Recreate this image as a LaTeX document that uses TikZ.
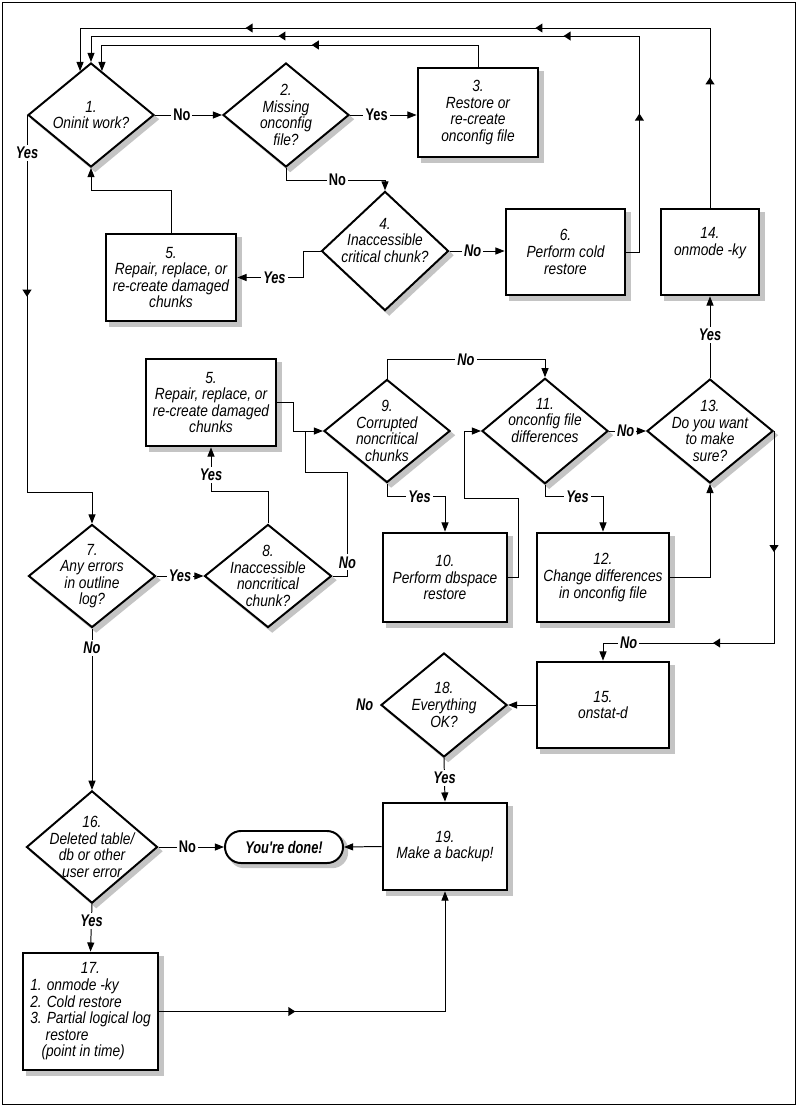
\documentclass[tikz,border=0pt]{standalone}
\usepackage{fontspec}
\setmainfont{Liberation Sans}[FakeStretch=0.85]
\newfontfamily\labfont{Liberation Sans}[FakeStretch=0.76]
\usetikzlibrary{shapes.geometric,arrows.meta,backgrounds}

\definecolor{shadowgray}{RGB}{196,196,196}

\tikzset{
  chart/.style={x=0.025cm, y=-0.025cm, line width=0.7pt,
    font=\fontsize{11.5}{11.8}\selectfont\itshape,
    >={Triangle[length=6.5pt,width=5pt]}},
  decide/.style={diamond, draw, line width=1.4pt, fill=white,
    align=center, inner sep=-6pt, minimum width=3.15cm, minimum height=2.6cm},
  act/.style={rectangle, draw, line width=2pt, fill=white,
    align=center, inner sep=2pt},
  finish/.style={rectangle, rounded corners=0.4cm, draw, line width=1.4pt,
    fill=white, minimum width=2.95cm, minimum height=0.8cm,
    font=\labfont\fontsize{12}{13}\selectfont\bfseries\itshape},
  lab/.style={fill=white, inner sep=1.5pt,
    font=\labfont\fontsize{12}{13}\selectfont\bfseries\itshape},
  labup/.style={lab, font=\labfont\fontsize{12}{13}\selectfont\bfseries},
  midtip/.style={isosceles triangle, isosceles triangle stretches, fill,
    draw=none, inner sep=0pt, outer sep=0pt, minimum width=6.5pt,
    minimum height=5pt, sloped, allow upside down},
  drop/.style={shift={(3pt,-3pt)}},
  shadowfill/.style={fill=shadowgray, draw=none}
}

\begin{document}
\begin{tikzpicture}[chart]
  \useasboundingbox (0,0) rectangle (797,1106);
  \draw (2,2) rectangle (795,1104);

  \node [decide] (D1) at (91,115) {1.\\Oninit work?};
  \node [decide] (D2) at (286,115) {2.\\Missing\\onconfig\\file?};
  \node [act, minimum width=3cm, minimum height=2.225cm] (B3) at (478,112.5) {3.\\Restore or\\re-create\\onconfig file};
  \node [decide, minimum width=3.175cm, minimum height=2.625cm] (D4) at (385,251) {4.\\Inaccessible\\critical chunk?\\\strut};
  \node [act, minimum width=3.25cm, minimum height=2.175cm] (B5a) at (171,277.5) {5.\\Repair, replace, or\\re-create damaged\\chunks};
  \node [act, minimum width=2.975cm, minimum height=2.15cm] (B6) at (565.5,252) {6.\\Perform cold\\restore};
  \node [act, minimum width=2.45cm, minimum height=2.15cm] (B14) at (710,252) {14.\\onmode -ky\\\strut};
  \node [act, minimum width=3.25cm, minimum height=2.175cm] (B5b) at (211,402.5) {5.\\Repair, replace, or\\re-create damaged\\chunks};
  \node [decide, minimum height=2.575cm] (D9) at (387,431) {9.\\Corrupted\\noncritical\\chunks};
  \node [decide, minimum height=2.575cm] (D11) at (545,431) {11.\\onconfig file\\differences\\\strut};
  \node [decide, minimum height=2.575cm] (D13) at (710,431) {13.\\Do you want\\to make\\sure?};
  \node [act, minimum width=3.1cm, minimum height=2.225cm] (B10) at (445,577.5) {10.\\Perform dbspace\\restore};
  \node [act, minimum width=3.3cm, minimum height=2.225cm] (B12) at (603,577.5) {12.\\Change differences\\in onconfig file};
  \node [decide, minimum width=3.175cm, minimum height=2.575cm] (D7) at (92,576) {7.\\Any errors\\in outline\\log?};
  \node [decide, minimum width=3.175cm, minimum height=2.575cm] (D8) at (268,576) {8.\\Inaccessible\\noncritical\\chunk?};
  \node [act, minimum width=3.3cm, minimum height=2.15cm] (B15) at (603,705) {15.\\onstat-d};
  \node [decide] (D18) at (444,705) {18.\\Everything\\OK?};
  \node [act, minimum width=3.1cm, minimum height=2.175cm] (B19) at (445,846.5) {19.\\Make a backup!};
  \node [decide, minimum width=3.275cm, minimum height=2.75cm] (D16) at (92,847) {16.\\Deleted table/\\db or other\\user error};
  \node [finish] (done) at (284,847) {You're done!};
  \node [act, align=left, minimum width=3.375cm, minimum height=2.925cm] (B17) at (90.5,1011.5) {\hspace*{36pt}17.\\1. onmode -ky\\2. Cold restore\\3. Partial logical log\\\hspace*{11pt}restore\\\hspace*{8pt}(point in time)};

  \begin{scope}[on background layer]
    \foreach \n in {B3,B5a,B6,B14,B5b,B10,B12,B15,B19,B17}
      \fill [shadowfill] ([drop]\n.south west) rectangle ([drop]\n.north east);
    \foreach \n in {D1,D2,D4,D9,D11,D13,D7,D8,D18,D16}
      \fill [shadowfill] ([drop]\n.north) -- ([drop]\n.east) -- ([drop]\n.south) -- ([drop]\n.west) -- cycle;
    \fill [shadowfill, rounded corners=0.4cm] ([drop]done.south west) rectangle ([drop]done.north east);
  \end{scope}

  \coordinate (top1) at (0,28);
  \coordinate (top2) at (0,36);
  \coordinate (top3) at (0,45);
  \coordinate (yes7) at (0,492);
  \coordinate (no15) at (0,643);
  \coordinate (j9) at (305,431);

  \draw [->] (D1) -- node [labup, pos=.4] {No} (D2);
  \draw [->] (D2.east) -- node [labup, pos=.4] {Yes} (D2.east -| B3.west);
  \draw [->] (D2.south) -- ++(0,12) -| node [labup, pos=.26] {No} (D4.north);
  \draw [->] (D4.west) -- ++(-17,0) |- node [lab, pos=.72] {Yes} (B5a.east);
  \draw [->] (D4.east) -- node [lab, pos=.42] {No} (D4.east -| B6.west);
  \draw [->] (B5a.north) -- ++(0,-42) -| (D1.south);
  \draw [->] (B3.north) -- (B3.north |- top3) -- node [midtip, pos=.43] {} (D1.76 |- top3) -- (D1.76);
  \draw [->] (B6.east) -- ++(13,0) coordinate (c6) -- node [midtip, pos=.62] {} (c6 |- top2) -- node [midtip, pos=.13] {} node [midtip, pos=.65] {} (D1.north |- top2) -- (D1.north);
  \draw [->] (B14.north) -- node [midtip, pos=.7] {} (B14.north |- top1) -- node [midtip, pos=.27] {} node [midtip, pos=.73] {} (D1.104 |- top1) -- (D1.104);
  \draw [->] (D1.west) -- node [lab, pos=.1] {Yes} node [midtip, pos=.47] {} (D1.west |- yes7) -| (D7.north);
  \draw [->] (D7) -- node [lab] {Yes} (D8);
  \draw [->] (D8.north) -- ++(0,-32) -| node [lab, pos=.69] {Yes} (B5b.south);
  \draw (D8.east) -- ++(15,0) -- node [lab, pos=.13] {No} ++(0,-104) -| (j9);
  \draw [->] (B5b.east) -- ++(16,0) |- (D9.west);
  \draw [->] (D9.north) -- ++(0,-19) -| node [lab, pos=.25] {No} (D11.north);
  \draw [->] (D9.south) -- ++(0,13) -| node [lab, pos=.28] {Yes} (B10.north);
  \draw [->] (B10.east) -- ++(10,0) |- ++(-54,-79) |- (D11.west);
  \draw [->] (D11.south) -- ++(0,12) -| node [lab, pos=.28] {Yes} (B12.north);
  \draw [->] (D11.east) -- node [lab, pos=.45] {No} (D13.west);
  \draw [->] (B12.east) -| (D13.south);
  \draw [->] (D13.north) -- node [lab, pos=.53] {Yes} (B14.south);
  \draw [->] (D13.east) -- node [midtip, pos=.55] {} (D13.east |- no15) -- node [midtip, pos=.33] {} node [lab, pos=.85] {No} (B15.north |- no15) -- (B15.north);
  \draw [->] (B15.west) -- (D18.east);
  \node [lab, anchor=east] (no18) at ([xshift=-3pt]D18.west) {No};
  \draw [->] (D18.south) -- node [lab, pos=.46] {Yes} (B19.north);
  \draw [->] (B19.west) -- (done.east);
  \draw [->] (D16.east) -- node [labup, pos=.44] {No} (done.west);
  \draw [->] (D7.south) -- node [lab, pos=.12] {No} (D16.north);
  \draw [->] (D16.south) -- node [lab, pos=.35] {Yes} (B17.north);
  \draw [->] (B17.east) -| node [midtip, pos=.23] {} (B19.south);
\end{tikzpicture}
\end{document}
